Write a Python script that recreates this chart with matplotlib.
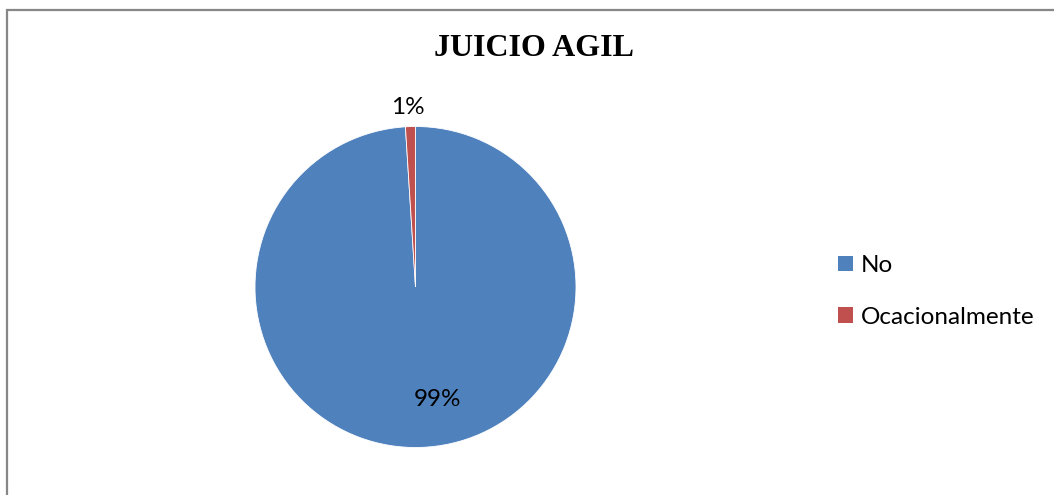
import matplotlib
matplotlib.use("Agg")
import matplotlib.pyplot as plt
from matplotlib.patches import Rectangle

# Survey answers and their shares
categories = ["No", "Ocacionalmente"]
shares = [99, 1]
colors = ["#4F81BD", "#C0504D"]
title = "JUICIO AGIL"

W, H = 1054, 495
fig = plt.figure(figsize=(W / 100, H / 100), dpi=100)

# Chart frame (only top and left edges fall inside the canvas)
fig.patches.append(Rectangle((6.5 / W, -0.2), 1.2, 1.2 - 9.5 / H,
                             transform=fig.transFigure, fill=False,
                             edgecolor="#878787", linewidth=1.6))

# Pie axes: centre (415.5, 287) px, radius 160.5 px
r = 160.5
cx, cy = 415.5, 287
ax = fig.add_axes([(cx - r) / W, (H - cy - r) / H, 2 * r / W, 2 * r / H])
wedges, texts, autotexts = ax.pie(
    shares, colors=colors, startangle=90, counterclock=False,
    autopct="%d%%", pctdistance=0.7,
    wedgeprops=dict(linewidth=0.6, edgecolor="white"),
    textprops=dict(family="Lato", fontsize=17.5, color="black"))
ax.set_xlim(-1, 1)
ax.set_ylim(-1, 1)
ax.set_aspect("equal")

# Label placement: big share inside, small share just above the rim
label_pos = [(0.14, -0.70), (-0.047, 1.12)]
for t, (x, y) in zip(autotexts, label_pos):
    t.set_position((x, y))
    t.set_ha("center")
    t.set_va("center")
    t.set_clip_on(False)

fig.text(534 / W, 1 - 48 / H, title, ha="center", va="center",
         fontsize=23, fontweight="bold", family="Liberation Serif")

leg = fig.legend(wedges, categories, loc="center left",
                 bbox_to_anchor=(838 / W, 1 - 291.5 / H),
                 frameon=False, prop=dict(family="Lato", size=17.5),
                 handlelength=0.63, handleheight=0.63, handletextpad=0.3,
                 labelspacing=1.27, borderpad=0, borderaxespad=0)
for h in leg.legend_handles:
    h.set_edgecolor("none")

fig.savefig("out.png", dpi=100, facecolor="white")
